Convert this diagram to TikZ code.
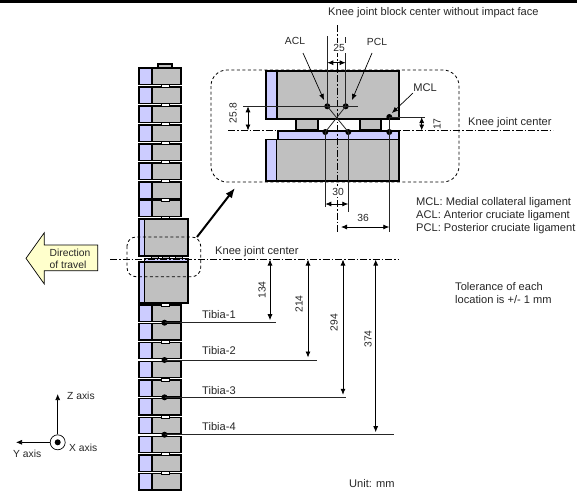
\documentclass[tikz,border=0pt]{standalone}
\usepackage{fontspec}
\setmainfont{Liberation Sans}
\usetikzlibrary{arrows.meta}
\definecolor{blockgray}{HTML}{C0C0C0}
\definecolor{platelilac}{HTML}{CCCCFF}
\definecolor{arrowyellow}{HTML}{FFFFCC}
\tikzset{
  lbl/.style={font=\fontsize{11.1}{13}\selectfont,inner sep=0pt,text=black!85},
  slbl/.style={font=\fontsize{10.3}{12}\selectfont,inner sep=0pt,text=black!85},
  gblock/.style={draw=black,line width=1.3pt,fill=blockgray},
  lblock/.style={draw=black,line width=1.3pt,fill=platelilac},
  thinl/.style={line width=0.8pt,draw=black!85},
  dim/.style={line width=0.8pt,{Latex[length=6pt,width=5pt]}-{Latex[length=6pt,width=5pt]}},
  lead/.style={line width=0.7pt,-{Latex[length=6pt,width=5pt]}},
  center/.style={line width=0.7pt,dash pattern=on 7pt off 2pt on 1.5pt off 2pt},
  zone/.style={line width=0.8pt,dash pattern=on 3pt off 2.5pt,rounded corners=9pt},
  jdot/.style={fill=black,circle,inner sep=0pt,minimum size=6pt}
}
\begin{document}
\begin{tikzpicture}[x=1pt,y=-1pt]
	\useasboundingbox (0,0) rectangle (577,493);
	\fill (0,0) rectangle (577,2.5);
	% chain
	\draw[gblock] (158,68) to (158,64) to (172,64) to (172,68) to cycle;
	\foreach \yb in {68,87,106,125,144,163,182,200,305,323.75,342.5,361.25,380,398.75,417.5,436.25,455,473.75} {
		\draw[gblock] (152,\yb) rectangle (181,\yb+16.3);
		\draw[lblock] (139,\yb) rectangle (152,\yb+16.3);
	}
	\foreach \yb in {84.3,103.3,122.3,141.3,160.3,179.3,198.3,216.3,303,340,378,415,452.5,471.5} {
		\draw[line width=1pt,fill=white] (161,\yb) rectangle (169,\yb+3);
	}
	% big blocks
	\draw[gblock] (144.5,219) rectangle (188,256);
	\draw[lblock] (139,219) rectangle (144.5,256);
	\draw[lblock] (144.5,258.8) rectangle (188,262);
	\draw[gblock] (144.5,262) rectangle (188,303);
	\draw[lblock] (139,262) rectangle (144.5,303);
	\foreach \xb in {151,162,175} {
		\draw[line width=0.7pt,fill=blockgray] (\xb,256) rectangle (\xb+7,258.8);
	}
	\draw[zone] (127,237) rectangle (200.7,276.7);
	\draw[line width=2pt,-{Latex[length=10pt,width=8pt]}] (197,237) to (235,188);
	% detail
	\draw[gblock] (277,71) rectangle (399,119);
	\draw[lblock] (266,71) rectangle (277,119);
	\draw[gblock] (296,119) rectangle (318,130);
	\draw[gblock] (360,119) rectangle (381,130);
	\draw[lblock] (278,131) rectangle (399,139.5);
	\draw[gblock] (276.5,139.5) rectangle (399,181);
	\draw[lblock] (266,139.5) rectangle (276.5,181);
	\draw[zone,rounded corners=16pt] (211,70) rectangle (459,182);
	\draw[center] (337.7,25) to (337.7,233);
	\draw[center] (228,130.5) to (553,130.5);
	\draw[center] (110,259.5) to (398,259.5);
	\node[jdot] (aclup) at (327.3,106.3) {};
	\node[jdot] (pclup) at (345.7,106.3) {};
	\node[jdot] (acllo) at (348.3,132) {};
	\node[jdot] (pcllo) at (325.3,132) {};
	\node[jdot] (mclup) at (389.3,117) {};
	\node[jdot] (mcllo) at (389.3,132) {};
	\draw[thinl] (aclup.center) to (acllo.center);
	\draw[thinl] (pclup.center) to (pcllo.center);
	\draw[thinl] (mclup.center) to (mcllo.center);
	\draw[thinl] (327.3,36) to (aclup.center);
	\draw[thinl] (345.7,37) to (pclup.center);
	\draw[thinl] (243,106.3) to (358,106.3);
	\draw[thinl] (mclup.center) to (425,117);
	\draw[thinl] (pcllo.center) to (325.3,207);
	\draw[thinl] (acllo.center) to (348.3,212);
	\draw[thinl] (mcllo.center) to (389.3,232);
	\draw[dim] (327.3,62.7) to (345.7,62.7);
	\draw[dim] (248,106.3) to (248,130.5);
	\draw[dim] (421.7,117) to (421.7,130.5);
	\draw[dim] (325.3,204) to (348.3,204);
	\draw[dim] (341,227) to (389.3,227);
	\node[lbl,anchor=west] (kneetop) at (328,13) {Knee joint block center without impact face};
	\node[slbl] (aclname) at (295,41) {ACL};
	\node[slbl] (pclname) at (377,42) {PCL};
	\node[lbl] (mclname) at (425,88) {MCL};
	\draw[lead] (aclname) ++(8,12) to (324,100);
	\draw[lead] (pclname) ++(-5,11) to (352,100);
	\draw[lead] (mclname) ++(-12,5) to (392,113);
	\node[slbl,fill=white,inner sep=1pt] (d25) at (339,48) {25};
	\node[slbl,rotate=90] (d258) at (233,113) {25.8};
	\node[slbl,rotate=90] (d17) at (437,124) {17};
	\node[slbl,fill=white,inner sep=1pt] (d30) at (338,192) {30};
	\node[slbl] (d36) at (363,218) {36};
	\node[lbl,anchor=west] (kneea) at (468,122.5) {Knee joint center};
	\node[lbl,anchor=west] (mcltxt) at (416,202.5) {MCL: Medial collateral ligament};
	\node[lbl,anchor=west] (acltxt) at (416,215.5) {ACL: Anterior cruciate ligament};
	\node[lbl,anchor=west] (pcltxt) at (416,229) {PCL: Posterior cruciate ligament};
	\node[lbl,anchor=west] (tola) at (455,286.5) {Tolerance of each};
	\node[lbl,anchor=west] (tolb) at (455,300) {location is +/- 1 mm};
	\node[lbl,anchor=west] (unit) at (349,484) {Unit: mm};
	\node[lbl,anchor=west] (kneeb) at (215,251.5) {Knee joint center};
	% tibia
	\foreach \yt/\xe/\xd/\xl/\yl/\ya/\lab in {322.7/275.7/270/262/290/315/1,360/317/308/299/304/351/2,397.3/345.7/343/334/322.7/391/3,434.7/394/375.7/368/339/427/4} {
		\node[jdot] (tib\lab) at (164.5,\yt) {};
		\draw[thinl] (tib\lab.center) to (\xe,\yt);
		\draw[dim] (\xd,259.5) to (\xd,\yt-2.5);
		\node[slbl,rotate=90] (tibd\lab) at (\xl,\yl) {\ifcase\lab\or134\or214\or294\or374\fi};
		\node[lbl,anchor=west] (tibn\lab) at (202,\ya) {Tibia-\lab};
	}
	% direction
	\draw[line width=0.7pt,fill=arrowyellow] (26,258.3) to (44.3,232.7) to (44.3,245) to (97.7,245) to (97.7,270.7) to (44.3,270.7) to (44.3,284) to cycle;
	\node[slbl,anchor=west,align=left] (travel) at (49.5,258.5) {Direction\\of travel};
	% axes
	\node[circle,draw,line width=0.7pt,inner sep=0pt,minimum size=15pt] (xcirc) at (57.7,442.3) {};
	\node[jdot] (xdot) at (57.7,442.3) {};
	\coordinate (ztip) at (57.7,394);
	\coordinate (ytip) at (16,442.3);
	\draw[lead] (xcirc) to (ztip);
	\draw[lead] (xcirc) to (ytip);
	\node[slbl,anchor=west] (zaxis) at (67,395.7) {Z axis};
	\node[slbl,anchor=west] (yaxis) at (13,454) {Y axis};
	\node[slbl,anchor=west] (xaxis) at (69,448) {X axis};
\end{tikzpicture}
\end{document}
